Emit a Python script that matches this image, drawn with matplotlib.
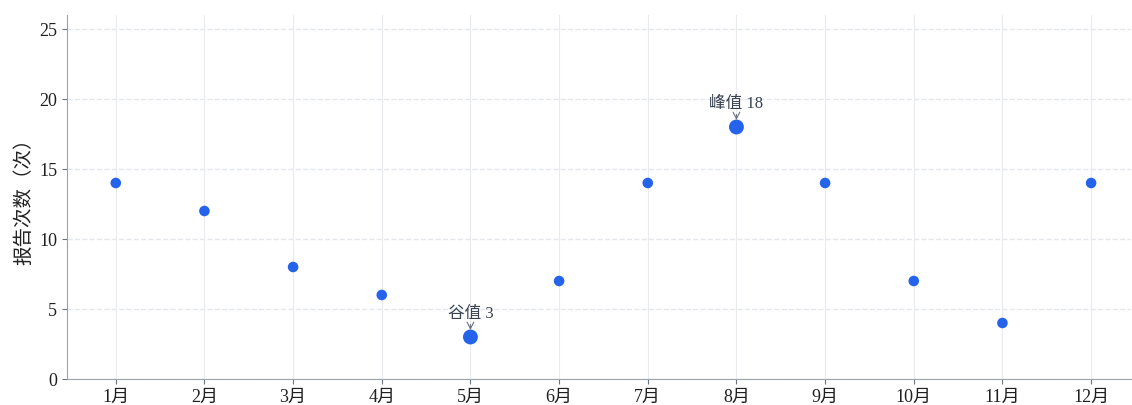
import matplotlib.pyplot as plt

plt.rcParams['font.family'] = ['Liberation Serif', 'Noto Sans CJK SC', 'DejaVu Sans']

# 数据
months = ['1月', '2月', '3月', '4月', '5月', '6月', '7月', '8月', '9月', '10月', '11月', '12月']
counts = [14, 12, 8, 6, 3, 7, 14, 18, 14, 7, 4, 14]

BLUE = '#2563eb'
x = list(range(len(months)))
i_max = counts.index(max(counts))
i_min = counts.index(min(counts))

fig = plt.figure(figsize=(11.32, 4.05), dpi=100)
ax = fig.add_axes([67 / 1132, 26 / 405, (1131 - 67) / 1132, (379 - 15) / 405])

sizes = [115 if i in (i_max, i_min) else 58 for i in x]
ax.scatter(x, counts, s=sizes, color=BLUE, zorder=3, linewidths=0)

for i, lab in [(i_max, '峰值'), (i_min, '谷值')]:
    ax.annotate(f'{lab} {counts[i]}', xy=(i, counts[i]), xytext=(0, 11),
                textcoords='offset points', ha='center', va='bottom',
                fontsize=12, color='#374151',
                arrowprops=dict(arrowstyle='->', color='#6b7280', lw=0.8,
                                shrinkA=0, shrinkB=5))

ax.set_xlim(-0.55, 11.45)
ax.set_ylim(0, 26)
ax.set_xticks(x)
ax.set_xticklabels(months)
ax.set_yticks([0, 5, 10, 15, 20, 25])
ax.set_ylabel('报告次数（次）', fontsize=14, color='#222222')

ax.grid(axis='x', color='#e5e7eb', lw=0.8, alpha=0.8)
ax.grid(axis='y', color='#e5e7eb', lw=1.0, ls='--')
ax.set_axisbelow(True)

for s in ['top', 'right']:
    ax.spines[s].set_visible(False)
for s in ['left', 'bottom']:
    ax.spines[s].set_color('#9ca3af')
ax.tick_params(colors='#6b7280', labelcolor='#1f1f1f', labelsize=13)

fig.savefig('out.png', dpi=100)
